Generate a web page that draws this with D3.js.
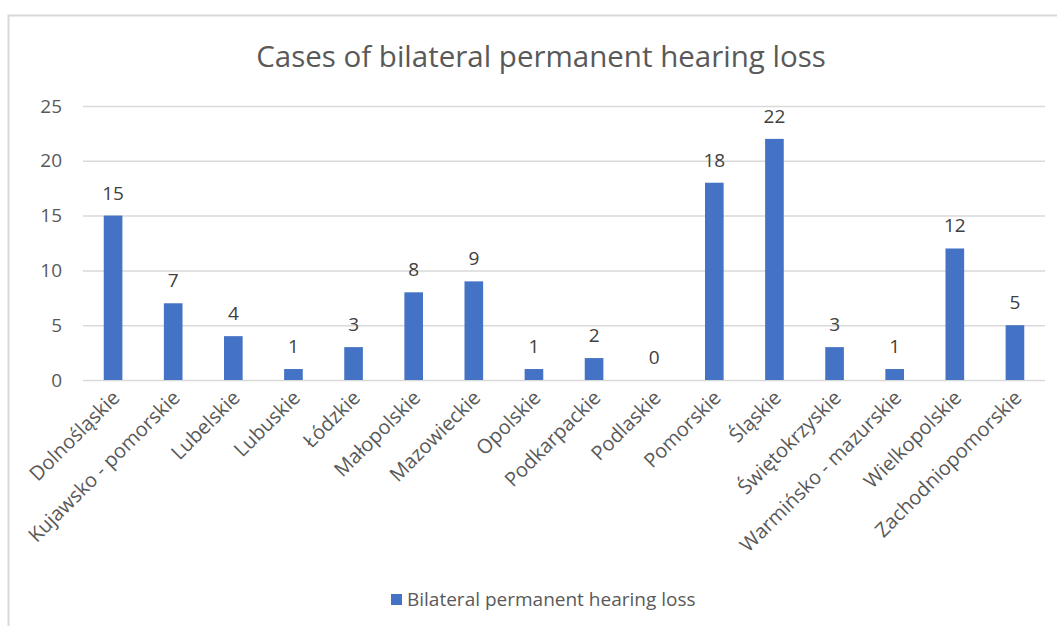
<!DOCTYPE html>
<html>
<head>
<meta charset="utf-8">
<script src="https://cdn.jsdelivr.net/npm/d3@7/dist/d3.min.js"></script>
<style>
  body { margin: 0; background: #fff; }
  text { font-family: "Open Sans", "Noto Sans", sans-serif; }
</style>
</head>
<body>
<svg id="chart" width="1057" height="626"></svg>
<script>
var regions = ["Dolnośląskie", "Kujawsko - pomorskie", "Lubelskie", "Lubuskie", "Łódzkie",
  "Małopolskie", "Mazowieckie", "Opolskie", "Podkarpackie", "Podlaskie", "Pomorskie",
  "Śląskie", "Świętokrzyskie", "Warmińsko - mazurskie", "Wielkopolskie", "Zachodniopomorskie"];
var cases = [15, 7, 4, 1, 3, 8, 9, 1, 2, 0, 18, 22, 3, 1, 12, 5];
var yTicks = [0, 5, 10, 15, 20, 25];
var seriesName = "Bilateral permanent hearing loss";

var svg = d3.select("#chart");
var plotLeft = 83, plotRight = 1045, plotTop = 106, plotBottom = 380;

// outer chart frame
svg.append("rect")
  .attr("x", 8.5).attr("y", 15.5)
  .attr("width", 1100).attr("height", 700)
  .attr("fill", "#fff")
  .attr("stroke", "#d9d9d9")
  .attr("stroke-width", 2);

svg.append("text")
  .attr("x", 541).attr("y", 67)
  .attr("text-anchor", "middle")
  .attr("font-size", 29.5)
  .attr("fill", "#595959")
  .text("Cases of bilateral permanent hearing loss");

var x = d3.scaleBand().domain(regions).range([plotLeft, plotRight]).paddingInner(0.69).paddingOuter(0.345);
var y = d3.scaleLinear().domain([0, 25]).range([plotBottom, plotTop]);

// gridlines
svg.append("g")
  .selectAll("line")
  .data(yTicks)
  .join("line")
  .attr("x1", plotLeft).attr("x2", plotRight)
  .attr("y1", function(d) { return y(d) + 0.5; })
  .attr("y2", function(d) { return y(d) + 0.5; })
  .attr("stroke", "#d9d9d9")
  .attr("stroke-width", 1.5);

var yAxis = svg.append("g")
  .attr("transform", "translate(" + (plotLeft - 18) + ",0)")
  .call(d3.axisLeft(y).tickValues(yTicks).tickSize(0));
yAxis.select(".domain").remove();
yAxis.selectAll("text")
  .attr("font-size", 19)
  .attr("fill", "#595959")
  .attr("font-family", "Open Sans");

svg.append("g")
  .selectAll("rect")
  .data(cases)
  .join("rect")
  .attr("x", function(d, i) { return x(regions[i]); })
  .attr("width", x.bandwidth())
  .attr("y", function(d) { return y(d); })
  .attr("height", function(d) { return y(0) - y(d); })
  .attr("fill", "#4472c4");

svg.append("g")
  .selectAll("text")
  .data(cases)
  .join("text")
  .attr("x", function(d, i) { return x(regions[i]) + x.bandwidth() / 2; })
  .attr("y", function(d) { return y(d) - 16; })
  .attr("text-anchor", "middle")
  .attr("font-size", 19)
  .attr("fill", "#404040")
  .text(function(d) { return d; });

// category labels, rotated
svg.append("g")
  .selectAll("text")
  .data(regions)
  .join("text")
  .attr("transform", function(d) {
    return "translate(" + (x(d) + x.bandwidth() / 2 + 8) + "," + (plotBottom + 19) + ") rotate(-45)";
  })
  .attr("text-anchor", "end")
  .attr("font-size", 20)
  .attr("fill", "#595959")
  .text(function(d) { return d; });

// legend
var legend = svg.append("g").attr("transform", "translate(391,594)");
legend.append("rect").attr("width", 11).attr("height", 11).attr("fill", "#4472c4");
legend.append("text")
  .attr("x", 16).attr("y", 12)
  .attr("font-size", 19)
  .attr("fill", "#595959")
  .text(seriesName);
</script>
</body>
</html>
